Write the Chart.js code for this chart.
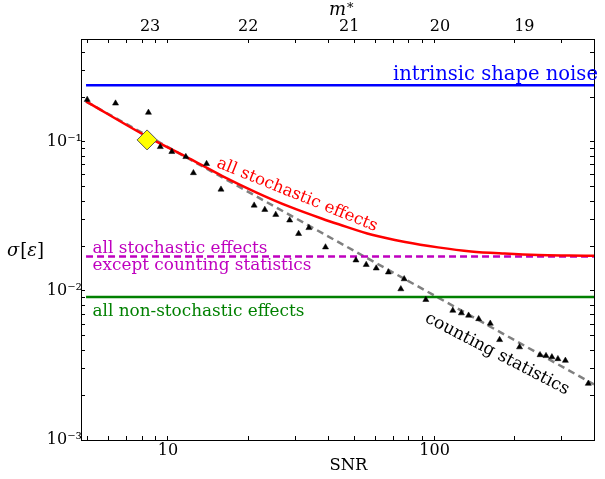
<!DOCTYPE html>
<html><head><meta charset="utf-8">
<script src="https://cdn.jsdelivr.net/npm/chart.js@4.4.1/dist/chart.umd.min.js"></script>
<style>html,body{margin:0;padding:0;background:#fff;}canvas{display:block;}</style>
</head><body>
<canvas id="c" width="605" height="479"></canvas>
<script>
// ---- data ----
const galSNR = [4.98, 6.36, 8.45, 9.36, 10.34, 11.67, 12.46, 13.96, 15.81, 21.05, 23.08, 25.37, 28.61, 30.9, 33.77, 38.98, 50.7, 55.4, 60.4, 67.1, 74.7, 76.9, 92.7, 117.0, 126.0, 134.1, 146.3, 161.7, 175.3, 208.2, 248.5, 261.7, 275.3, 290.0, 309.3, 376.9];
const galSigma = [0.192, 0.1814, 0.1573, 0.0926, 0.0858, 0.0794, 0.0619, 0.0713, 0.0480, 0.0375, 0.0351, 0.0325, 0.0298, 0.0242, 0.0265, 0.01966, 0.01608, 0.0150, 0.0142, 0.01335, 0.0103, 0.01202, 0.00873, 0.00739, 0.0071, 0.00685, 0.00649, 0.00605, 0.0047, 0.0042, 0.00372, 0.00367, 0.0036, 0.0035, 0.00341, 0.00239];
const refSNR = [8.35];
const refSigma = [0.1031];
const stochSNR = [4.93, 8.35, 12.0, 16.0, 21.4, 28.4, 37.9, 43.7, 58.2, 77.5, 103, 137, 183, 244, 320, 396];
const stochSigma = [0.187, 0.1085, 0.0776, 0.0590, 0.0459, 0.0369, 0.0305, 0.0280, 0.0238, 0.0213, 0.0196, 0.0184, 0.0178, 0.0174, 0.01728, 0.01722];
const countSNR = [4.93, 396];
const countSigma = [0.1865, 0.00236];
const levelSNR = [4.93, 396];
const shapeNoise = 0.24;
const stochNoCount = 0.017;
const nonStoch = 0.0091;
const xTickValues = [5, 6, 7, 8, 9, 10, 20, 30, 40, 50, 60, 70, 80, 90, 100, 200, 300];
const xTickLabels = ['', '', '', '', '', '10', '', '', '', '', '', '', '', '', '100', '', ''];
const yTickValues = [0.001, 0.002, 0.003, 0.004, 0.005, 0.006, 0.007, 0.008, 0.009, 0.01, 0.02, 0.03, 0.04, 0.05, 0.06, 0.07, 0.08, 0.09, 0.1, 0.2, 0.3, 0.4];
const yTickLabels = ['10⁻³', '', '', '', '', '', '', '', '', '10⁻²', '', '', '', '', '', '', '', '', '10⁻¹', '', '', ''];
const magSNR = [8.57, 20.0, 47.8, 104.8, 217];
const magLabels = ['23', '22', '21', '20', '19'];

const X_MIN = 4.72, X_MAX = 396, Y_MIN = 0.001, Y_MAX = 0.49;
const FONT = 'DejaVu Serif';

const pts = (xs, ys) => xs.map((x, i) => ({x: x, y: ys[i]}));
const flat = (xs, v) => xs.map(x => ({x: x, y: v}));

const topTicks = xTickValues.map((v, i) => ({value: v, label: '', mag: false}))
  .concat(magSNR.map((v, i) => ({value: v, label: magLabels[i], mag: true})))
  .sort((a, b) => a.value - b.value);

const tickCommon = {autoSkip: false, maxRotation: 0, minRotation: 0, color: '#000', font: {family: FONT, size: 16}};
const gridCommon = {drawOnChartArea: false, drawTicks: true, tickLength: -4, tickWidth: 1, color: '#000'};
const borderCommon = {display: true, color: '#000', width: 1};

const annotations = {
  id: 'annotations',
  afterDraw(chart) {
    const ctx = chart.ctx;
    function fit(text, style, w) {
      ctx.font = style + ' 100px "' + FONT + '"';
      return 100 * w / ctx.measureText(text).width;
    }
    function label(text, color, x, y, w, align, angle) {
      const size = fit(text, 'normal', w);
      ctx.save();
      ctx.font = size.toFixed(2) + 'px "' + FONT + '"';
      ctx.fillStyle = color;
      ctx.textBaseline = 'middle';
      ctx.textAlign = align;
      ctx.translate(x, y);
      if (angle) ctx.rotate(angle * Math.PI / 180);
      ctx.fillText(text, 0, 0);
      ctx.restore();
    }
    label('intrinsic shape noise', '#0000ff', 393, 75, 205, 'left', 0);
    label('all stochastic effects', '#ff0000', 297, 195, 172, 'center', 22);
    label('all stochastic effects', '#bf00bf', 92.5, 249, 175, 'left', 0);
    label('except counting statistics', '#bf00bf', 92.5, 266, 219, 'left', 0);
    label('all non-stochastic effects', '#008000', 92.5, 312, 212, 'left', 0);
    label('counting statistics', '#000000', 497, 354, 160, 'center', 27.4);
    label('SNR', '#000000', 329.5, 466, 38, 'left', 0);

    // y axis title  σ[ε]
    ctx.save();
    ctx.fillStyle = '#000';
    ctx.textBaseline = 'alphabetic';
    ctx.textAlign = 'left';
    let x = 7;
    const base = 256;
    const parts = [['σ', 'italic'], ['[', 'normal'], ['ε', 'italic'], [']', 'normal']];
    parts.forEach(p => {
      ctx.font = p[1] + ' 18px "' + FONT + '"';
      ctx.fillText(p[0], x, base);
      x += ctx.measureText(p[0]).width + (p[0] === 'σ' ? 1 : 0);
    });
    // top axis title  m*
    ctx.font = 'italic 18px "' + FONT + '"';
    ctx.fillText('m', 329, 15);
    const mw = ctx.measureText('m').width;
    ctx.font = 'normal 13px "' + FONT + '"';
    ctx.fillText('*', 329 + mw + 1, 12);
    ctx.restore();
  }
};

new Chart(document.getElementById('c'), {
  type: 'scatter',
  data: {
    datasets: [
      {data: pts(refSNR, refSigma), pointStyle: 'rectRot', pointRadius: 10, backgroundColor: '#ffff00', borderColor: '#555555', borderWidth: 1, order: 0},
      {data: pts(galSNR, galSigma), pointStyle: 'triangle', pointRadius: 3.5, backgroundColor: '#000', borderColor: '#000', borderWidth: 0.5, order: 1},
      {data: pts(stochSNR, stochSigma), showLine: true, borderColor: '#ff0000', borderWidth: 2.5, pointRadius: 0, cubicInterpolationMode: 'monotone', order: 2},
      {data: flat(levelSNR, shapeNoise), showLine: true, borderColor: '#0000ff', borderWidth: 2.5, pointRadius: 0, order: 3},
      {data: flat(levelSNR, stochNoCount), showLine: true, borderColor: '#bf00bf', borderWidth: 2.5, borderDash: [7, 4], pointRadius: 0, order: 3},
      {data: flat(levelSNR, nonStoch), showLine: true, borderColor: '#008000', borderWidth: 2.5, pointRadius: 0, order: 3},
      {data: pts(countSNR, countSigma), showLine: true, borderColor: '#808080', borderWidth: 2.5, borderDash: [7, 4.5], pointRadius: 0, order: 4}
    ]
  },
  options: {
    responsive: false,
    animation: false,
    devicePixelRatio: 1,
    layout: {padding: 0},
    plugins: {legend: {display: false}, tooltip: {enabled: false}},
    scales: {
      x: {
        type: 'logarithmic', position: 'bottom', min: X_MIN, max: X_MAX, bounds: 'data',
        afterBuildTicks: s => { s.ticks = xTickValues.map(v => ({value: v})); },
        afterFit: s => { s.height = 39; },
        ticks: Object.assign({}, tickCommon, {padding: 5, callback: (v, i) => xTickLabels[i]}),
        grid: gridCommon, border: borderCommon
      },
      x2: {
        type: 'logarithmic', position: 'top', min: X_MIN, max: X_MAX, bounds: 'data',
        afterBuildTicks: s => { s.ticks = topTicks.map(t => ({value: t.value})); },
        afterFit: s => { s.height = 39; },
        ticks: Object.assign({}, tickCommon, {padding: 7, callback: (v, i) => topTicks[i].label}),
        grid: Object.assign({}, gridCommon, {tickColor: c => (c.tick && topTicks[c.index] && topTicks[c.index].mag) ? 'rgba(0,0,0,0)' : '#000'}),
        border: borderCommon
      },
      y: {
        type: 'logarithmic', position: 'left', min: Y_MIN, max: Y_MAX, bounds: 'data',
        afterBuildTicks: s => { s.ticks = yTickValues.map(v => ({value: v})); },
        afterFit: s => { s.width = 81; },
        ticks: Object.assign({}, tickCommon, {padding: 3, callback: (v, i) => yTickLabels[i]}),
        grid: gridCommon, border: borderCommon
      },
      y2: {
        type: 'logarithmic', position: 'right', min: Y_MIN, max: Y_MAX, bounds: 'data',
        afterBuildTicks: s => { s.ticks = yTickValues.map(v => ({value: v})); },
        afterFit: s => { s.width = 8; },
        ticks: Object.assign({}, tickCommon, {display: false}),
        grid: gridCommon, border: borderCommon
      }
    }
  },
  plugins: [annotations]
});
</script>
</body></html>
